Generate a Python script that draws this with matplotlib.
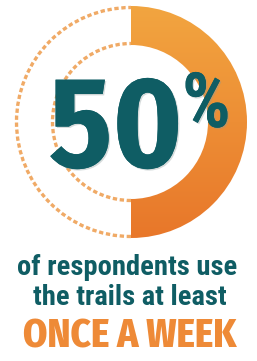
import numpy as np
import matplotlib
matplotlib.use("Agg")
import matplotlib.pyplot as plt
import matplotlib.patches as patches
import matplotlib.patheffects as pe
from matplotlib.colors import LinearSegmentedColormap

# ----- data -----
PERCENT = 50
VALUE_LABEL = "50"
LINE_1 = "of respondents use"
LINE_2 = "the trails at least"
HIGHLIGHT = "ONCE A WEEK"

# ----- style -----
W, H = 257, 361
TEAL = "#0f5d64"
ORANGE = "#ee8a37"
DASH = "#f0aa66"
CX, CY = 131, 122
R_OUT, R_IN = 116, 77
FONT = ["Roboto Condensed", "DejaVu Sans"]
HEAVY = ["Fira Sans Condensed", "Roboto Condensed", "DejaVu Sans"]

fig = plt.figure(figsize=(W / 100, H / 100), dpi=100)
ax = fig.add_axes([0, 0, 1, 1])

# filled ring for the share, gradient from light top to dark bottom
sweep = 360 * PERCENT / 100
wedge = patches.Wedge((CX, CY), R_OUT, 90 - sweep, 90, width=R_OUT - R_IN,
                      facecolor="none", edgecolor="none")
ax.add_patch(wedge)
cmap = LinearSegmentedColormap.from_list("ring", ["#f2a540", "#e8772a"])
grad = np.linspace(0, 1, 256).reshape(-1, 1)
img = ax.imshow(grad, cmap=cmap, extent=(CX - R_OUT, CX + R_OUT, CY + R_OUT, CY - R_OUT),
                aspect="auto", zorder=2)
img.set_clip_path(wedge)

# dashed outline for the rest
for r in (R_OUT - 1.5, R_IN + 1.5):
    arc = patches.Arc((CX, CY), 2 * r, 2 * r, theta1=90, theta2=90 + 360 - sweep,
                      color=DASH, lw=2.4, linestyle=(0, (1.3, 0.8)), zorder=1)
    ax.add_patch(arc)

ax.set_xlim(0, W)
ax.set_ylim(H, 0)
ax.set_axis_off()

shadow = [pe.withSimplePatchShadow(offset=(1, -1), shadow_rgbFace="#8a9a9a", alpha=0.35),
          pe.Normal()]

# big number
ax.text(49, 167, VALUE_LABEL, ha="left", va="baseline", color=TEAL,
        fontsize=93, fontweight="bold", fontstretch="condensed", family=HEAVY,
        path_effects=shadow, zorder=3)
ax.text(182, 127, "%", ha="left", va="baseline", color=TEAL,
        fontsize=55, fontweight="bold", fontstretch="condensed", family=FONT,
        path_effects=shadow, zorder=3)

ax.text(127, 275, LINE_1, ha="center", va="baseline", color=TEAL,
        fontsize=20.5, fontweight="bold", fontstretch="condensed", family=FONT)
ax.text(130, 305, LINE_2, ha="center", va="baseline", color=TEAL,
        fontsize=20.5, fontweight="bold", fontstretch="condensed", family=FONT)
ax.text(130, 348, HIGHLIGHT, ha="center", va="baseline", color=ORANGE,
        fontsize=28, fontweight="heavy", fontstretch="condensed", family=HEAVY)

fig.savefig("out.png", dpi=100, facecolor="white")
